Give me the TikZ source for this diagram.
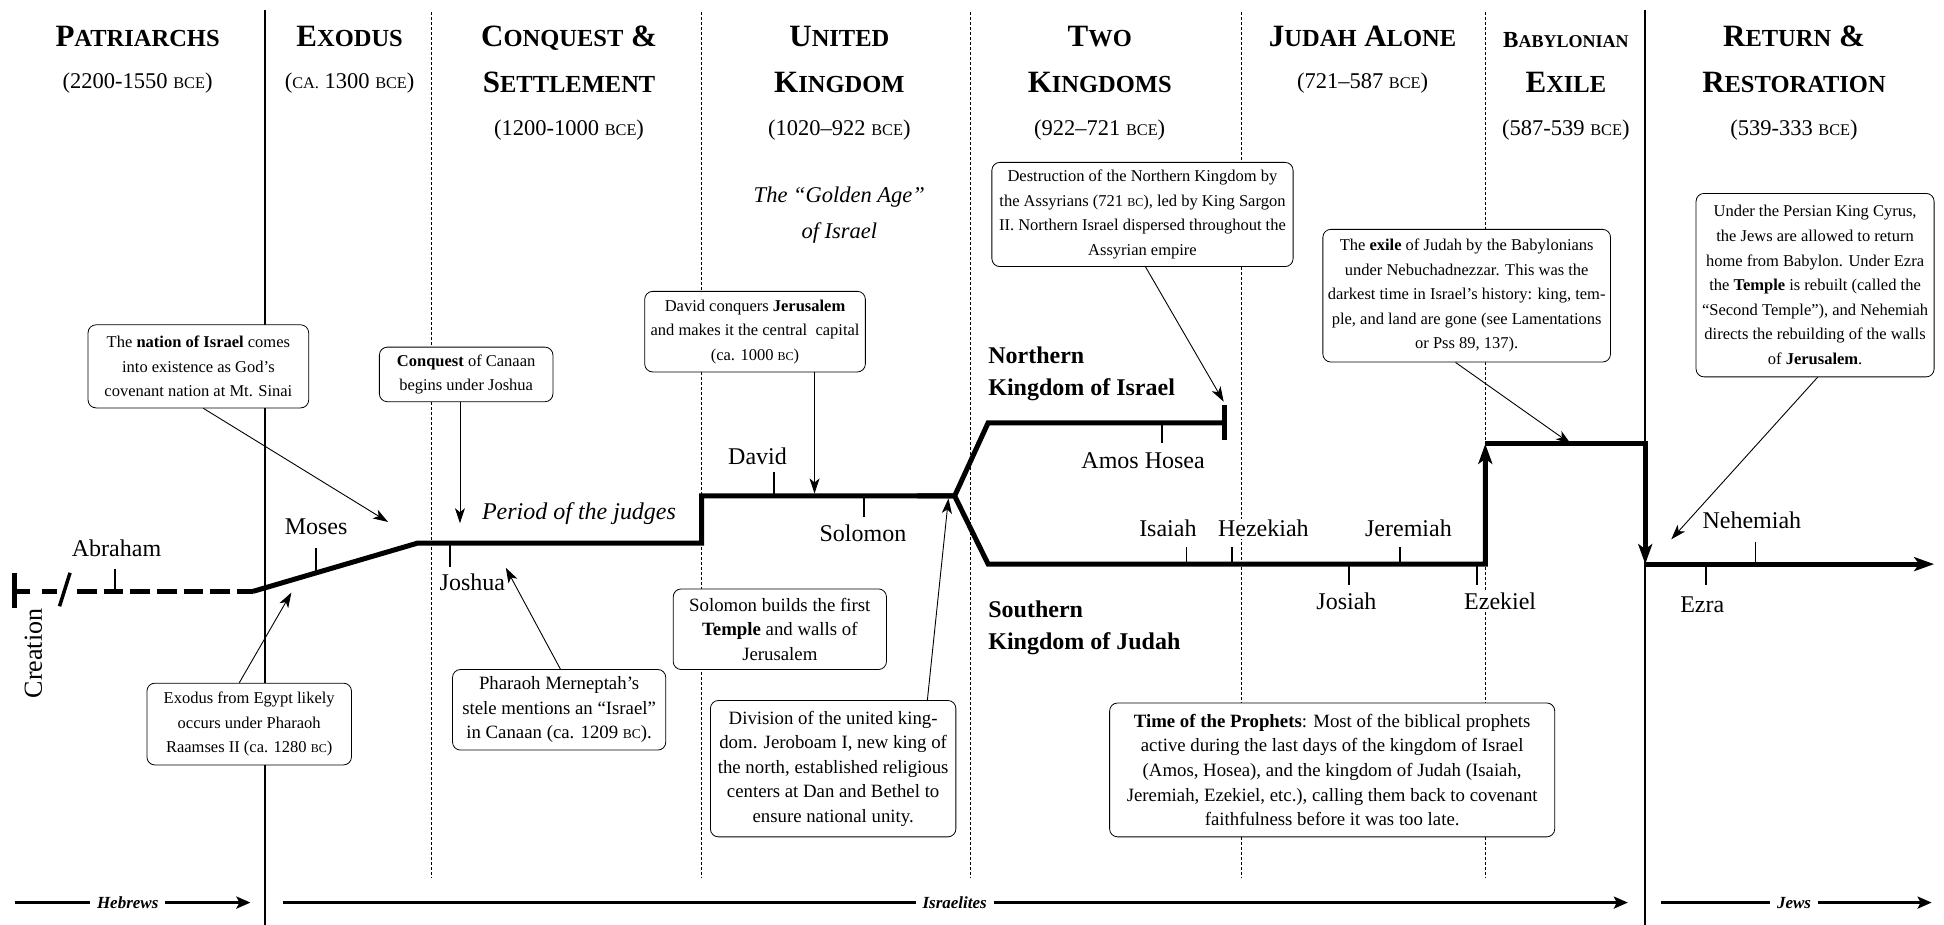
\documentclass[tikz,border=0pt]{standalone}
\usepackage{fontspec}
\setmainfont{Liberation Serif}
\usetikzlibrary{arrows.meta,calc}
\newcommand\HB[2]{{\fontsize{31}{31}\selectfont #1}{\fontsize{24.5}{24.5}\selectfont #2}}
\newcommand\HBsp{{\fontsize{31}{31}\selectfont\ }}
\newcommand\HBs[2]{{\fontsize{23}{23}\selectfont #1}{\fontsize{18}{18}\selectfont #2}}
\newcommand\scD[1]{{\fontsize{16.3}{16.3}\selectfont #1}}
\newcommand\scS[1]{{\fontsize{12}{12}\selectfont #1}}
\newcommand\scL[1]{{\fontsize{13.5}{13.5}\selectfont #1}}
\tikzset{
  hdr/.style={font=\bfseries, anchor=base, inner sep=0pt},
  hdrdate/.style={font=\fontsize{22.5}{22.5}\selectfont, anchor=base, inner sep=0pt},
  soliddiv/.style={line width=2.2pt},
  dotdiv/.style={line width=0.6pt, dash pattern=on 3pt off 2pt},
  tline/.style={line width=5pt},
  tickmark/.style={line width=1.8pt},
  bigtip/.style={-{Stealth[length=20pt,width=14pt,inset=5pt]}},
  callout/.style={line width=0.9pt, -{Stealth[length=15pt,width=10pt,inset=4pt]}},
  notebox/.style={draw, line width=0.8pt, rounded corners=8pt, fill=white, align=center, inner sep=2pt},
  smallbox/.style={notebox, font=\fontsize{16.5}{24.6}\selectfont},
  largebox/.style={notebox, font=\fontsize{18.8}{24.6}\selectfont},
  lbl/.style={font=\fontsize{24}{24}\selectfont, anchor=base, fill=white, inner sep=1.5pt},
  kingdom/.style={font=\bfseries\fontsize{24}{24}\selectfont, anchor=base west, inner sep=0pt},
  era/.style={line width=2.8pt, -{Stealth[length=14pt,width=12pt,inset=3pt]}},
  eralbl/.style={font=\bfseries\itshape\fontsize{17}{17}\selectfont, fill=white, inner xsep=7pt, inner ysep=2pt},
}
\begin{document}
\begin{tikzpicture}[x=1.24pt,y=-1.24pt]
\useasboundingbox (0,0) rectangle (1568,746);

% ---------- dividers
\coordinate (dA1) at (214,8);   \coordinate (dA2) at (214,746);
\coordinate (dB1) at (1327,8);  \coordinate (dB2) at (1327,746);
\draw[soliddiv] (dA1) -- (dA2);
\draw[soliddiv] (dB1) -- (dB2);
\foreach \x in {348,566,783,1001,1198} \draw[dotdiv] (\x,10) -- (\x,708);

% ---------- headers
\node[hdr] (h1a) at (111,37.5) {\HB{P}{ATRIARCHS}};
\node[hdrdate] (h1b) at (111,71) {(2200-1550 \scD{BCE})};
\node[hdr] (h2a) at (282,37.5) {\HB{E}{XODUS}};
\node[hdrdate] (h2b) at (282,71) {(\scD{CA.} 1300 \scD{BCE})};
\node[hdr] (h3a) at (459,37.5) {\HB{C}{ONQUEST}\HBsp\HB{\&}{}};
\node[hdr] (h3b) at (459,75) {\HB{S}{ETTLEMENT}};
\node[hdrdate] (h3c) at (459,109) {(1200-1000 \scD{BCE})};
\node[hdr] (h4a) at (677,37.5) {\HB{U}{NITED}};
\node[hdr] (h4b) at (677,75) {\HB{K}{INGDOM}};
\node[hdrdate] (h4c) at (677,109) {(1020–922 \scD{BCE})};
\node[hdr] (h5a) at (887,37.5) {\HB{T}{WO}};
\node[hdr] (h5b) at (887,75) {\HB{K}{INGDOMS}};
\node[hdrdate] (h5c) at (887,109) {(922–721 \scD{BCE})};
\node[hdr] (h6a) at (1099,37.5) {\HB{J}{UDAH}\HBsp\HB{A}{LONE}};
\node[hdrdate] (h6b) at (1099,71) {(721–587 \scD{BCE})};
\node[hdr] (h7a) at (1263,38) {\HBs{B}{ABYLONIAN}};
\node[hdr] (h7b) at (1263,75) {\HB{E}{XILE}};
\node[hdrdate] (h7c) at (1263,109) {(587-539 \scD{BCE})};
\node[hdr] (h8a) at (1447,37.5) {\HB{R}{ETURN}\HBsp\HB{\&}{}};
\node[hdr] (h8b) at (1447,75) {\HB{R}{ESTORATION}};
\node[hdrdate] (h8c) at (1447,109) {(539-333 \scD{BCE})};

\node[font=\itshape\fontsize{22.5}{22.5}\selectfont, anchor=base, inner sep=0pt] (ga1) at (677,163) {The “Golden Age”};
\node[font=\itshape\fontsize{22.5}{22.5}\selectfont, anchor=base, inner sep=0pt] (ga2) at (677,192) {of Israel};

% ---------- timeline
\coordinate (s0) at (204,477);
\coordinate (s1) at (337,438);
\coordinate (s2) at (566,438);
\coordinate (s3) at (566,400);
\coordinate (split) at (770,400);
\coordinate (splitb) at (740,400);
\coordinate (n1) at (797,341);
\coordinate (nend) at (988,341);
\coordinate (so1) at (797,455);
\coordinate (so2) at (1198,455);
\coordinate (ex1) at (1198,358);
\coordinate (ex2) at (1327,358);
\coordinate (rt) at (1327,455);
\coordinate (fin) at (1560,455);

% creation end and dashed early part
\draw[line width=5pt] (12,462) -- (12,490);
\draw[tline] (12,477) -- (24,477);
\draw[tline] (34,477) -- (46,477);
\draw[line width=3.5pt] (48,489) -- (56.5,462);
\draw[tline, dash pattern=on 19.8pt off 6.9pt] (62,477) -- (s0);

\draw[tline] (s0) -- (s1) -- (s2) -- (s3) -- (split) -- (n1) -- (nend);
\draw[line width=5pt] (988,327) -- (988,355);
\draw[tline, bigtip] (splitb) -- (split) -- (so1) -- (so2) -- (ex1);
\draw[tline, bigtip] (ex1) -- (ex2) -- (rt);
\draw[tline, bigtip] (rt) -- (fin);

% ticks
\draw[tickmark] (93,477) -- (93,459);
\draw[tickmark] (255,462) -- (255,442);
\draw[tickmark] (363,438) -- (363,457);
\draw[tickmark] (624,400) -- (624,381);
\draw[tickmark] (697,400) -- (697,417);
\draw[tickmark] (937,341) -- (937,357);
\draw[tickmark] (957,455) -- (957,441);
\draw[tickmark] (994,455) -- (994,441);
\draw[tickmark] (1129,455) -- (1129,441);
\draw[tickmark] (1088,455) -- (1088,472);
\draw[tickmark] (1191,455) -- (1191,472);
\draw[tickmark] (1376,455) -- (1376,472);
\draw[tickmark] (1416,455) -- (1416,437);

% labels
\node[font=\fontsize{26}{26}\selectfont, rotate=90, inner sep=0pt] (creation) at (27,527) {Creation};
\node[lbl] (abraham) at (94,449) {Abraham};
\node[lbl] (moses) at (255,431) {Moses};
\node[lbl] (joshua) at (381,476) {Joshua};
\node[lbl, font=\itshape\fontsize{24}{24}\selectfont] (judges) at (467,419) {Period of the judges};
\node[lbl] (david) at (611,375) {David};
\node[lbl] (solomon) at (696,437) {Solomon};
\node[lbl] (amos) at (922,378) {Amos Hosea};
\node[lbl] (isaiah) at (942,433) {Isaiah};
\node[lbl] (hezekiah) at (1019,433) {Hezekiah};
\node[lbl] (jeremiah) at (1136,433) {Jeremiah};
\node[lbl] (josiah) at (1086,492) {Josiah};
\node[lbl] (ezekiel) at (1210,492) {Ezekiel};
\node[lbl] (nehemiah) at (1413,426) {Nehemiah};
\node[lbl] (ezra) at (1373,494) {Ezra};
\node[kingdom] (north1) at (797,293) {Northern};
\node[kingdom] (north2) at (797,319) {Kingdom of Israel};
\node[kingdom] (south1) at (797,498) {Southern};
\node[kingdom] (south2) at (797,524) {Kingdom of Judah};

% boxes
\node[smallbox, minimum width=220.7pt, minimum height=83.1pt] (nation) at (160,295.5)
  {The \textbf{nation of Israel} comes\\ into existence as God’s\\ covenant nation at Mt. Sinai};
\node[smallbox, minimum width=204.6pt, minimum height=81.8pt] (exodus) at (201,584)
  {Exodus from Egypt likely\\ occurs under Pharaoh\\ Raamses II (ca. 1280 \scS{BC})};
\node[smallbox, minimum width=173.6pt, minimum height=54.6pt] (conquest) at (376,302)
  {\textbf{Conquest} of Canaan\\ begins under Joshua};
\node[smallbox, minimum width=220.7pt, minimum height=80.6pt] (davidbox) at (609,267.5)
  {David conquers \textbf{Jerusalem}\\ and makes it the central\ \ capital\\ (ca. 1000 \scS{BC})};
\node[smallbox, minimum width=301.3pt, minimum height=104.2pt] (destr) at (921.5,173)
  {Destruction of the Northern Kingdom by\\ the Assyrians (721 \scS{BC}), led by King Sargon\\ II. Northern Israel dispersed throughout the\\ Assyrian empire};
\node[smallbox, minimum width=287.7pt, minimum height=132.7pt] (exile) at (1183,238.5)
  {The \textbf{exile} of Judah by the Babylonians\\ under Nebuchadnezzar. This was the\\ darkest time in Israel’s history: king, tem-\\ ple, and land are gone (see Lamentations\\ or Pss 89, 137).};
\node[smallbox, minimum width=238.1pt, minimum height=183.5pt] (cyrus) at (1464,230)
  {Under the Persian King Cyrus,\\ the Jews are allowed to return\\ home from Babylon. Under Ezra\\ the \textbf{Temple} is rebuilt (called the\\ “Second Temple”), and Nehemiah\\ directs the rebuilding of the walls\\ of \textbf{Jerusalem}.};
\node[largebox, minimum width=213.3pt, minimum height=80.6pt] (pharaoh) at (451,572.5)
  {Pharaoh Merneptah’s\\ stele mentions an “Israel”\\ in Canaan (ca. 1209 \scL{BC}).};
\node[largebox, minimum width=213.3pt, minimum height=80.6pt] (solbox) at (629,507.5)
  {Solomon builds the first\\ \textbf{Temple} and walls of\\ Jerusalem};
\node[largebox, minimum width=245.5pt, minimum height=136.4pt] (division) at (672,620)
  {Division of the united king-\\ dom. Jeroboam I, new king of\\ the north, established religious\\ centers at Dan and Bethel to\\ ensure national unity.};
\node[largebox, minimum width=445.2pt, minimum height=133.9pt] (prophets) at (1074.5,621)
  {\textbf{Time of the Prophets}: Most of the biblical prophets\\ active during the last days of the kingdom of Israel\\ (Amos, Hosea), and the kingdom of Judah (Isaiah,\\ Jeremiah, Ezekiel, etc.), calling them back to covenant\\ faithfulness before it was too late.};

% callout targets
\coordinate (tNation) at (313,421);
\coordinate (tExodus) at (235,478);
\coordinate (tConquest) at (371,422);
\coordinate (tDavid) at (657,398);
\coordinate (tDestr) at (987,324);
\coordinate (tExile) at (1267,358);
\coordinate (tCyrus) at (1348,435);
\coordinate (tPharaoh) at (408,458);
\coordinate (tDivision) at (765,402);

\draw[callout] ($(nation.south)+(4,0)$) -- (tNation);
\draw[callout] ($(exodus.north)+(-8,0)$) -- (tExodus);
\draw[callout] ($(conquest.south)+(-5,0)$) -- (tConquest);
\draw[callout] ($(davidbox.south)+(48,0)$) -- (tDavid);
\draw[callout] ($(destr.south)+(2.5,0)$) -- (tDestr);
\draw[callout] ($(exile.south)+(-9,0)$) -- (tExile);
\draw[callout] ($(cyrus.south)+(2,0)$) -- (tCyrus);
\draw[callout] ($(pharaoh.north)+(1,0)$) -- (tPharaoh);
\draw[callout] ($(division.north)+(76,0)$) -- (tDivision);

% era arrows
\coordinate (heb0) at (12,728);   \coordinate (heb1) at (202,728);
\coordinate (isr0) at (228,728);  \coordinate (isr1) at (1313,728);
\coordinate (jew0) at (1340,728); \coordinate (jew1) at (1558,728);
\draw[era] (heb0) -- (heb1);
\draw[era] (isr0) -- (isr1);
\draw[era] (jew0) -- (jew1);
\node[eralbl] (hebrews) at (103,728) {Hebrews};
\node[eralbl] (israelites) at (770,728) {Israelites};
\node[eralbl] (jews) at (1447,728) {Jews};
\end{tikzpicture}
\end{document}
